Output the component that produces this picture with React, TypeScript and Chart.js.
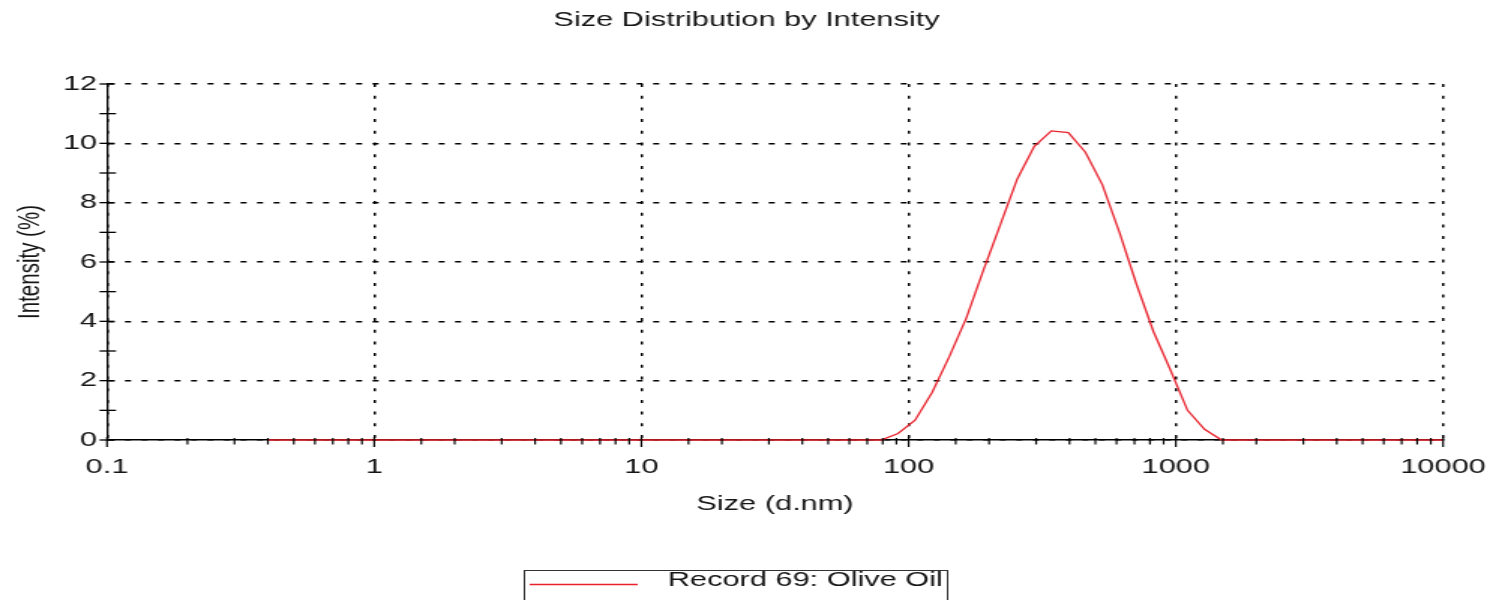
import React, { useEffect, useRef } from 'react';
import { Chart, registerables } from 'chart.js';

Chart.register(...registerables);

// ---- data ----
const sizeNm = [
  0.4, 0.4632, 0.5365, 0.6213, 0.7195, 0.8332, 0.9649, 1.117, 1.294, 1.499,
  1.736, 2.01, 2.328, 2.696, 3.122, 3.615, 4.187, 4.849, 5.615, 6.503,
  7.531, 8.721, 10.1, 11.7, 13.54, 15.69, 18.17, 21.04, 24.36, 28.21,
  32.67, 37.84, 43.82, 50.75, 58.77, 68.06, 78.82, 91.28, 105.7, 122.4,
  141.8, 164.2, 190.1, 220.2, 255.0, 295.3, 342.0, 396.1, 458.7, 531.2,
  615.1, 712.4, 825.0, 955.4, 1106, 1281, 1484, 1718, 1990, 2305,
  2669, 3091, 3580, 4145, 4801, 5560, 6439, 7456, 8635, 10000,
];

const intensityPct = [
  0, 0, 0, 0, 0, 0, 0, 0, 0, 0,
  0, 0, 0, 0, 0, 0, 0, 0, 0, 0,
  0, 0, 0, 0, 0, 0, 0, 0, 0, 0,
  0, 0, 0, 0, 0, 0, 0, 0.22, 0.67, 1.6,
  2.8, 4.1, 5.7, 7.25, 8.8, 9.9, 10.42, 10.36, 9.7, 8.6,
  7.0, 5.25, 3.65, 2.35, 1.0, 0.36, 0, 0, 0, 0,
  0, 0, 0, 0, 0, 0, 0, 0, 0, 0,
];

const xTickLabels = ['0.1', '1', '10', '100', '1000', '10000'];
const yTickLabels = ['0', '2', '4', '6', '8', '10', '12'];

const seriesLabel = 'Record 69: Olive Oil';
const chartTitle = 'Size Distribution by Intensity';
const xTitle = 'Size (d.nm)';
const yTitle = 'Intensity (%)';

// ---- look ----
const CANVAS_W = 995;
const CANVAS_H = 600;
const DISPLAY_W = 1493;
const FONT = '"Liberation Sans", Arial, Helvetica, sans-serif';
const FONT_SIZE = 20.5;
const TEXT_COLOR = '#161616';
const LINE_COLOR = 'rgb(232, 34, 44)';

const xLabelFor = (v: number): string => {
  for (const l of xTickLabels) {
    if (Math.abs(Math.log10(v) - Math.log10(parseFloat(l))) < 1e-6) return l;
  }
  return '';
};

const isYMajor = (v: number) => yTickLabels.includes(String(v));

const axisTicksPlugin = {
  id: 'axisTicks',
  afterDraw(chart: any) {
    const { ctx, chartArea } = chart;
    const xs = chart.scales.x;
    const ys = chart.scales.y;
    ctx.save();
    ctx.strokeStyle = '#000';
    ctx.setLineDash([]);
    // y ticks (crossing the axis)
    ctx.lineWidth = 1.3;
    for (const t of ys.ticks) {
      const py = ys.getPixelForValue(t.value);
      const major = isYMajor(t.value);
      ctx.beginPath();
      ctx.moveTo(chartArea.left - 5, py);
      ctx.lineTo(chartArea.left + (major ? 5 : 6), py);
      ctx.stroke();
    }
    // x ticks (log decades and sub-decades)
    ctx.lineWidth = 1.2;
    for (const t of xs.ticks) {
      const px = xs.getPixelForValue(t.value);
      const major = xLabelFor(t.value) !== '';
      ctx.beginPath();
      ctx.moveTo(px, chartArea.bottom - (major ? 3 : 2));
      ctx.lineTo(px, chartArea.bottom + (major ? 7 : 4.5));
      ctx.stroke();
    }
    ctx.restore();
  },
};

const boxLegendPlugin = {
  id: 'boxLegend',
  afterDraw(chart: any) {
    const ds = chart.data.datasets[0];
    const { ctx } = chart;
    const left = 349;
    const right = 631;
    const top = 570;
    ctx.save();
    ctx.setLineDash([]);
    ctx.strokeStyle = '#333';
    ctx.lineWidth = 1;
    ctx.strokeRect(left + 0.5, top + 0.5, right - left, 60);
    ctx.strokeStyle = ds.borderColor;
    ctx.lineWidth = 1.3;
    ctx.beginPath();
    ctx.moveTo(left + 4, 584.5);
    ctx.lineTo(left + 76, 584.5);
    ctx.stroke();
    ctx.fillStyle = TEXT_COLOR;
    ctx.font = `${FONT_SIZE}px ${FONT}`;
    ctx.textBaseline = 'middle';
    ctx.textAlign = 'left';
    ctx.fillText(ds.label, left + 96, 580);
    ctx.restore();
  },
};

export default function App() {
  const canvasRef = useRef<HTMLCanvasElement | null>(null);

  useEffect(() => {
    const canvas = canvasRef.current;
    if (!canvas) return;
    const font = { family: FONT, size: FONT_SIZE, weight: 'normal' as const };
    const chart = new Chart(canvas, {
      type: 'line',
      data: {
        datasets: [
          {
            label: seriesLabel,
            data: sizeNm.map((s, i) => ({ x: s, y: intensityPct[i] })),
            borderColor: LINE_COLOR,
            backgroundColor: LINE_COLOR,
            borderWidth: 1.3,
            pointRadius: 0,
            tension: 0,
            fill: false,
            clip: false as any,
            yAxisID: 'y',
          },
        ],
      },
      options: {
        responsive: false,
        animation: false,
        devicePixelRatio: 1,
        layout: { padding: 0 },
        plugins: {
          legend: { display: false },
          tooltip: { enabled: false },
          title: {
            display: true,
            text: chartTitle,
            color: TEXT_COLOR,
            font,
            padding: { top: 8.5, bottom: 50.9 },
          },
        },
        scales: {
          x: {
            type: 'logarithmic',
            min: 0.1,
            max: 10000,
            z: 1,
            afterFit: (s: any) => {
              s.height = 160;
              s.paddingLeft = 0;
              s.paddingRight = 0;
            },
            grid: {
              color: (c: any) =>
                c.tick && xLabelFor(c.tick.value) !== '' ? '#000' : 'rgba(0,0,0,0)',
              lineWidth: 1.5,
              drawTicks: false,
            },
            border: { display: true, color: '#000', width: 1.5, dash: [3, 8.7] },
            ticks: {
              autoSkip: false,
              maxRotation: 0,
              minRotation: 0,
              padding: 14.7,
              color: TEXT_COLOR,
              font,
              callback: (v: any) => xLabelFor(Number(v)),
            },
            title: {
              display: true,
              text: xTitle,
              color: TEXT_COLOR,
              font,
              padding: { top: 0, bottom: 83.7 },
            },
          },
          y: {
            type: 'linear',
            position: 'left',
            min: 0,
            max: 12,
            z: 1,
            afterFit: (s: any) => {
              s.width = 71.3;
            },
            grid: {
              color: (c: any) =>
                c.tick && isYMajor(c.tick.value) ? '#000' : 'rgba(0,0,0,0)',
              lineWidth: 1.5,
              drawTicks: false,
            },
            border: { display: true, color: '#000', width: 1.3, dash: [4, 7] },
            ticks: {
              stepSize: 1,
              autoSkip: false,
              padding: 6.6,
              color: TEXT_COLOR,
              font,
              callback: (v: any) => (isYMajor(Number(v)) ? String(v) : ''),
            },
            title: {
              display: true,
              text: yTitle,
              color: TEXT_COLOR,
              font,
              padding: { top: 7.7, bottom: 0 },
            },
          },
          yRight: {
            type: 'linear',
            position: 'right',
            min: 0,
            max: 12,
            afterFit: (s: any) => {
              s.width = 33.3;
            },
            grid: { display: false, drawTicks: false },
            border: { display: false },
            ticks: { display: false },
          },
        },
      } as any,
      plugins: [axisTicksPlugin, boxLegendPlugin],
    });
    return () => chart.destroy();
  }, []);

  return (
    <div
      style={{
        position: 'fixed',
        left: 0,
        top: 0,
        width: DISPLAY_W,
        height: CANVAS_H,
        background: '#fff',
        overflow: 'hidden',
      }}
    >
      <canvas
        ref={canvasRef}
        width={CANVAS_W}
        height={CANVAS_H}
        style={{ width: `${DISPLAY_W}px`, height: `${CANVAS_H}px`, display: 'block' }}
      />
    </div>
  );
}
